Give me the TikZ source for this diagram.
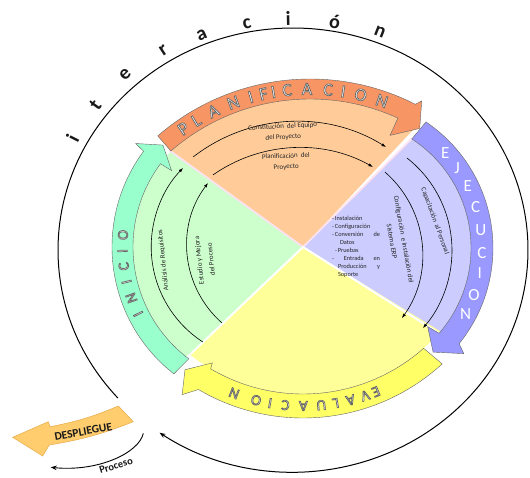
\documentclass[tikz,border=0pt]{standalone}
\usepackage{fontspec}
\setmainfont{Carlito}
\usetikzlibrary{calc,arrows.meta}
\definecolor{lorange}{RGB}{255,204,153}
\definecolor{lblue}{RGB}{204,204,255}
\definecolor{lyellow}{RGB}{255,255,153}
\definecolor{lgreen}{RGB}{204,255,204}
\definecolor{borange}{RGB}{247,150,100}
\definecolor{bblue}{RGB}{153,153,255}
\definecolor{byellow}{RGB}{255,255,102}
\definecolor{bgreen}{RGB}{153,255,204}
\definecolor{dorange}{RGB}{255,204,110}
\definecolor{dedge}{RGB}{230,170,70}
\definecolor{pinksep}{RGB}{252,225,240}
\newcommand\olt[1]{\special{pdf:literal 2 Tr 0.7 w 0.4 G}#1\special{pdf:literal 0 Tr}}
\begin{document}
\begin{tikzpicture}[x=1pt,y=1pt,
  band/.style={draw=black!60,line width=0.4pt},
  sepw/.style={draw=white,line width=2pt},
  sepp/.style={draw=pinksep,line width=1.8pt},
  inarr/.style={draw=black,line width=0.6pt,-{Latex[length=4.5pt,width=3.2pt]}},
  intxt/.style={font=\fontsize{7}{10.8}\selectfont,text=black!85,align=center,inner sep=0pt},
  bandlet/.style={inner sep=0pt,text=white},
  itlet/.style={inner sep=0pt,font=\fontsize{20}{20}\selectfont\bfseries,text=black!90}]
\useasboundingbox (0,0) rectangle (530,-477);
\coordinate (P0) at (303,-247);
\coordinate (Cp) at (310,-311);
\coordinate (Ce) at (341,-248);
\coordinate (Cv) at (303,-212);
\coordinate (Ci) at (273,-247);
\coordinate (Cb) at (293,-250);
% sectors
\fill[lorange] (P0) -- ($(Cp)+(131:214)$) arc[start angle=131,end angle=60,radius=214pt] -- cycle;
\fill[lblue] (P0) -- ($(Ce)+(57:130)$) arc[start angle=57,end angle=-41,radius=130pt] -- cycle;
\fill[lyellow] (P0) -- ($(Cv)+(-41:182)$) arc[start angle=-41,end angle=-129,radius=182pt] -- cycle;
\fill[lgreen] (P0) -- ($(Ci)+(232:140)$) arc[start angle=232,end angle=137,radius=140pt] -- cycle;
% separators
\coordinate (s1) at ($(Ci)+(137:142)$);
\coordinate (s2) at ($(Ce)+(57:131)$);
\coordinate (s3) at ($(Ce)+(-41:131)$);
\coordinate (s4) at ($(Ci)+(232:141)$);
\draw[sepp] (P0) -- (s1);
\draw[sepp] (P0) -- (s2);
\draw[sepw] (P0) -- (s3);
\draw[sepw] (P0) -- (s4);
% bands
\filldraw[band,fill=byellow] ($(Cv)+(-47.5:206)$) arc[start angle=-47.5,end angle=-120.5,radius=206pt]
  -- ($(Cv)+(-123.5:219)$) -- ($(Cv)+(-126.8:197)$) -- ($(Cv)+(-121:176)$)
  -- ($(Cv)+(-120.5:182)$) arc[start angle=-120.5,end angle=-48.5,radius=182pt] -- cycle;
\filldraw[band,fill=bblue] ($(Ce)+(56:152)$) arc[start angle=56,end angle=-39,radius=152pt]
  -- ($(Ce)+(-40.7:162)$) -- ($(Ce)+(-48.5:139)$) -- ($(Ce)+(-42.2:117)$)
  -- ($(Ce)+(-41:130)$) arc[start angle=-41,end angle=57,radius=130pt] -- cycle;
\filldraw[band,fill=borange] ($(Cp)+(131:232)$) arc[start angle=131,end angle=63,radius=232pt]
  -- ($(Cp)+(62:238)$) -- ($(Cp)+(59:213)$) -- ($(Cp)+(65.5:193)$)
  -- ($(Cp)+(65.5:212)$) arc[start angle=65.5,end angle=131,radius=212pt] -- cycle;
\filldraw[band,fill=bgreen] ($(Ci)+(232:161)$) arc[start angle=232,end angle=143.5,radius=161pt]
  -- ($(Ci)+(143:172)$) -- ($(Ci)+(137.2:150)$) -- ($(Ci)+(143:127)$)
  -- ($(Ci)+(143.5:140)$) arc[start angle=143.5,end angle=233,radius=140pt] -- cycle;
% band letters
\foreach \ang/\chr [count=\nn] in {124.8/P,120.8/L,115.8/A,110.2/N,105.5/I,102.1/F,99.5/I,95.9/C,90.8/A,85.3/C,81.4/I,76.8/O,71.1/N}
  \node[bandlet,font=\fontsize{18}{18}\selectfont,rotate=\ang-90] (pl\nn) at ($(Cp)+(\ang:222)$) {\olt{\chr}};
\foreach \ang/\chr [count=\nn] in {42.3/E,34.6/J,26/E,17.1/C,7.4/U,-2.2/C,-10.3/I,-19.3/O,-27.8/N}
  \node[bandlet,font=\fontsize{17}{17}\selectfont] (ej\nn) at ($(Ce)+(\ang:141)$) {\chr};
\foreach \ang/\chr [count=\nn] in {206.4/I,199.8/N,193.4/I,187.4/C,181.5/I,175.4/O}
  \node[bandlet,font=\fontsize{15}{15}\selectfont,rotate=\ang-90] (in\nn) at ($(Ci)+(\ang:150.5)$) {\olt{\chr}};
\foreach \ang/\chr [count=\nn] in {-67.9/E,-71.3/V,-75.8/A,-80.3/L,-84.6/U,-89.9/A,-95.2/C,-99.8/I,-104/O,-110.8/N}
  \node[bandlet,font=\fontsize{15}{15}\selectfont,rotate=\ang-90] (ev\nn) at ($(Cv)+(\ang:194)$) {\olt{\chr}};
% inner arrows
\coordinate (a1) at (296.7,-290.5);
\coordinate (a2) at (299.3,-298.2);
\coordinate (a3) at (334.2,-250.6);
\coordinate (a4) at (313,-254.4);
\coordinate (a5) at (264.7,-246.8);
\coordinate (a6) at (290.3,-245.5);
\draw[inarr] ($(a1)+(127.8:169)$) arc[start angle=127.8,end angle=58.1,radius=169pt];
\draw[inarr] ($(a2)+(125:150.5)$) arc[start angle=125,end angle=60.7,radius=150.5pt];
\draw[inarr] ($(a3)+(51.8:117.8)$) arc[start angle=51.8,end angle=-41.1,radius=117.8pt];
\draw[inarr] ($(a4)+(48.9:109.4)$) arc[start angle=48.9,end angle=-35.6,radius=109.4pt];
\draw[inarr] ($(a5)+(237:113.5)$) arc[start angle=237,end angle=136,radius=113.5pt];
\draw[inarr] ($(a6)+(228.6:103.3)$) arc[start angle=228.6,end angle=142.8,radius=103.3pt];
% inner texts
\node[intxt,rotate=3] (t1) at (283,-132) {Constitución\ \ del Equipo\\del Proyecto};
\node[intxt,rotate=2] (t2) at (286,-161.7) {Planificación\ \ del\\Proyecto};
\node[intxt,rotate=-70] (t3) at (435,-221) {Capacitación\ \ al Personal};
\node[intxt,rotate=-80,font=\fontsize{7}{12}\selectfont] (t4) at (398,-240.5) {Configuración\ \ e Instalación del\\Sistema ERP};
\node[intxt,rotate=96] (t5) at (163.3,-260) {Análisis de Requisitos};
\node[intxt,rotate=96,font=\fontsize{7}{12}\selectfont] (t6) at (205,-260) {Estudio\ y Mejora\\del Proceso};
\node[intxt,align=left,font=\fontsize{6.3}{8.1}\selectfont] (lst) at (356,-246.7) {%
\makebox[48pt][l]{-\,Instalación}\\
\makebox[48pt][l]{-\,Configuración}\\
\makebox[48pt][l]{-\,Conversión\hfill de}\\
\makebox[48pt][l]{\hspace{8pt}Datos}\\
\makebox[48pt][l]{\hspace{3pt}-\,Pruebas}\\
\makebox[48pt][l]{-\hfill Entrada\hfill en}\\
\makebox[48pt][l]{\hspace{6pt}Producción\hfill y}\\
\makebox[48pt][l]{\hspace{6pt}Soporte}};
% big iteration circle
\coordinate (bs) at ($(Cb)+(221.8:235 and 222)$);
\draw[line width=1pt,-{Stealth[length=6pt,width=4.5pt]}] (bs) arc[start angle=221.8,end angle=-124.6,x radius=235pt,y radius=222pt];
\foreach \ang/\rr/\chr [count=\nn] in {153.2/247/i,143.8/245/t,133.8/242.6/e,123/238/r,113/233.6/a,101.5/231/c,91.2/231.7/i,79.6/232/ó,68.3/235/n}
  \node[itlet,rotate=\ang-90] (it\nn) at ($(Cb)+(\ang:\rr)$) {\chr};
% despliegue
\coordinate (dA) at (118.3,-406);
\coordinate (dB) at (133.3,-421.7);
\coordinate (dC) at (49.3,-445);
\coordinate (dD) at (42.7,-456);
\coordinate (dE) at (12.7,-437.3);
\coordinate (dF) at (48.3,-421.7);
\coordinate (dG) at (50,-426.7);
\filldraw[fill=dorange,draw=dedge,line width=0.5pt] (dA) -- (dB) to[bend left=6] (dC) -- (dD) -- (dE) -- (dF) -- (dG) to[bend right=6] (dA) -- cycle;
\node[inner sep=0pt,rotate=10,font=\fontsize{11.5}{12}\selectfont\bfseries,text=black!90] (dep) at (83.3,-431.7) {DESPLIEGUE};
\coordinate (pr1) at (143.3,-433.3);
\coordinate (pr2) at (50.7,-467.3);
\draw[line width=0.9pt,-{Stealth[length=6pt,width=4.5pt]}] (pr1) .. controls (139,-453) and (98,-472) .. (pr2);
\node[inner sep=0pt,rotate=17,font=\fontsize{10.5}{11}\selectfont\bfseries,text=black!90] (proc) at (116,-465.5) {Proceso};
\end{tikzpicture}
\end{document}
